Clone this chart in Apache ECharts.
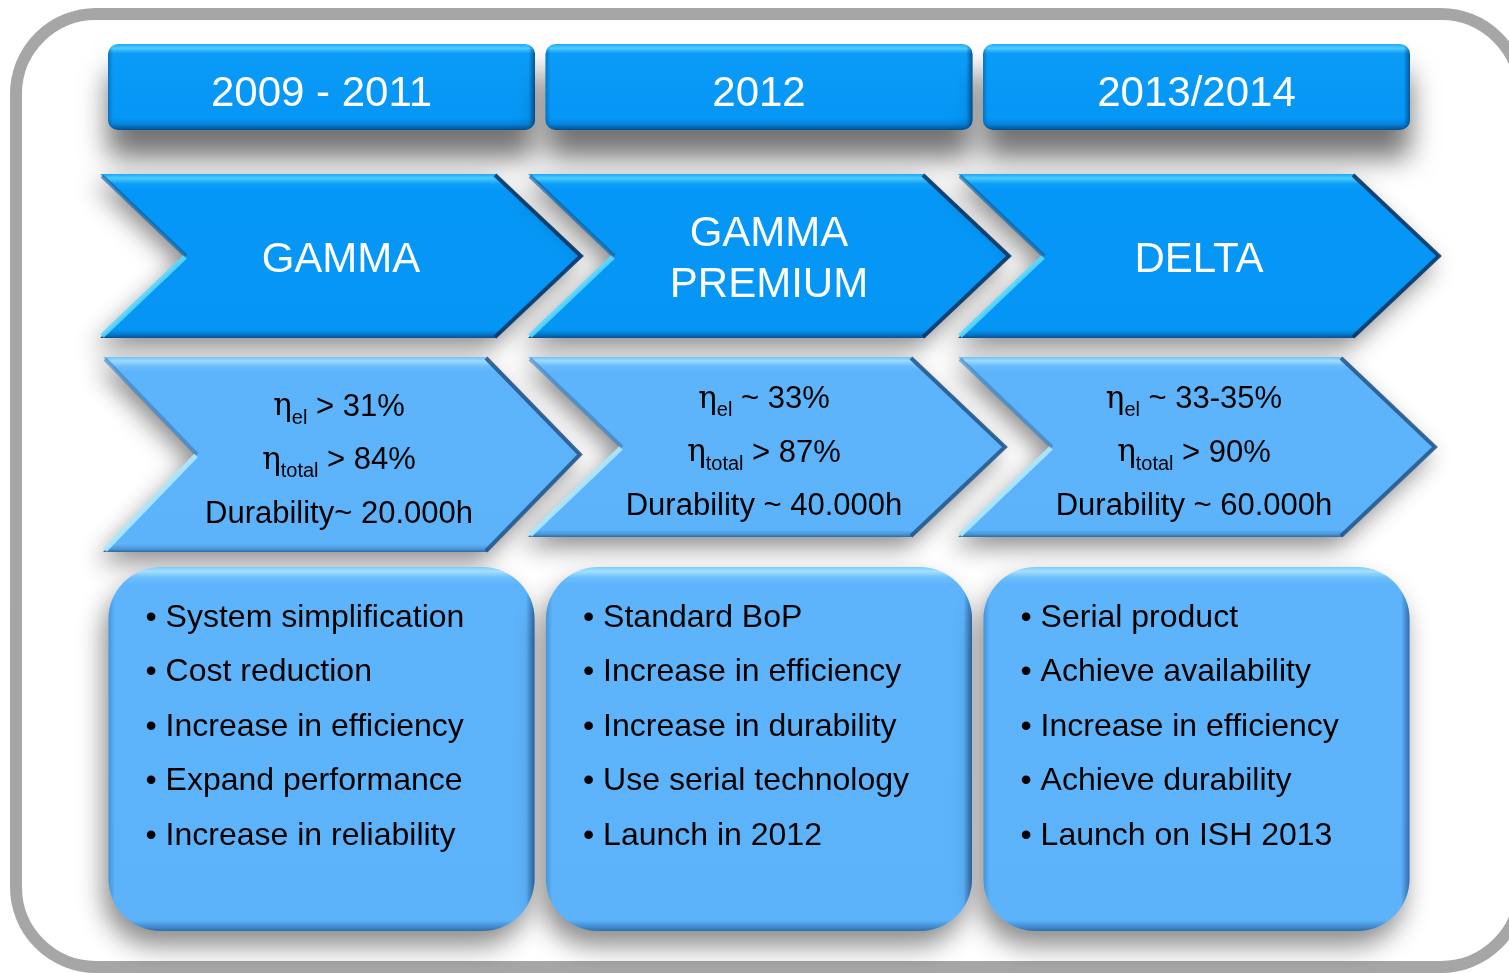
<!DOCTYPE html>
<html>
<head>
<meta charset="utf-8">
<title>GAMMA / DELTA roadmap</title>
<script src="https://cdn.jsdelivr.net/npm/echarts@6/dist/echarts.min.js"></script>
<style>
  html, body { margin: 0; padding: 0; background: #fff; }
  #main { width: 1509px; height: 973px; }
</style>
</head>
<body>
<div id="main"></div>
<script>
// periods shown in the header boxes
const periods = ["2009 - 2011", "2012", "2013/2014"];

// product generation per period
const products = ["GAMMA", "GAMMA\nPREMIUM", "DELTA"];

// efficiency and durability targets
const etaEl = ["> 31%", "~ 33%", "~ 33-35%"];
const etaTotal = ["> 84%", "> 87%", "> 90%"];
const durability = [
  "Durability~ 20.000h",
  "Durability ~ 40.000h",
  "Durability ~ 60.000h",
];

// goals per period
const goalsGamma = [
  "System simplification",
  "Cost reduction",
  "Increase in efficiency",
  "Expand performance",
  "Increase in reliability",
];
const goalsPremium = [
  "Standard BoP",
  "Increase in efficiency",
  "Increase in durability",
  "Use serial technology",
  "Launch in 2012",
];
const goalsDelta = [
  "Serial product",
  "Achieve availability",
  "Increase in efficiency",
  "Achieve durability",
  "Launch on ISH 2013",
];
const goals = [goalsGamma, goalsPremium, goalsDelta];

// layout (relative to the column centre of the category axis)
const layout = {
  header: { half: 213.5, top: 44, bottom: 130, r: 10 },
  arrow1: { top: 174, bottom: [338, 338, 338], offset: [-221.5, -231, -238.5], width: 482, depth: 86 },
  arrow2: { top: 357, bottom: [552, 537, 537], offset: [-218.5, -231, -238.5], width: 478, depth: 94 },
  box: { half: 213, top: 567, bottom: 931, r: 52 },
};

const FONT = "Liberation Sans, Arial, sans-serif";

// vertical / horizontal gradient helper
const grad = (stops, horizontal) =>
  new echarts.graphic.LinearGradient(
    0, 0, horizontal ? 1 : 0, horizontal ? 0 : 1,
    stops.map(([offset, color]) => ({ offset, color }))
  );

const chevronPoints = (l, t, w, b, d) => {
  const m = (t + b) / 2;
  return [[l, t], [l + w - d, t], [l + w, m], [l + w - d, b], [l, b], [l + d, m]];
};

// bevelled chevron: base shape + edge lines
const chevron = (l, t, w, b, d, c) => {
  const m = (t + b) / 2;
  return [
    {
      type: "polygon",
      shape: { points: chevronPoints(l, t, w, b, d) },
      style: {
        fill: grad(c.fill),
        shadowBlur: 24,
        shadowOffsetX: -6,
        shadowOffsetY: 10,
        shadowColor: "rgba(0,0,0,0.45)",
      },
    },
    {
      type: "polyline",
      shape: { points: [[l + 2, t + 2], [l + d, m]] },
      style: { stroke: c.darkLeft, lineWidth: 4, fill: null },
    },
    {
      type: "polyline",
      shape: { points: [[l + d - 1, m + 1], [l + 2, b - 2]] },
      style: { stroke: c.light, lineWidth: 5, fill: null },
    },
    {
      type: "polyline",
      shape: { points: [[l + w - d - 1, t + 1], [l + w - 1, m], [l + w - d - 1, b - 1]] },
      style: { stroke: c.dark, lineWidth: 4, fill: null, lineJoin: "miter" },
    },
  ];
};

const renderColumn = function (params, api) {
  const i = params.dataIndex;
  const cx = api.coord([api.value(0), 0])[0];
  const py = (v) => api.coord([api.value(0), v])[1];
  const children = [];

  // header box
  const H = layout.header;
  const hShape = { x: cx - H.half, y: py(H.top), width: H.half * 2, height: py(H.bottom) - py(H.top), r: H.r };
  children.push({
    type: "rect",
    shape: hShape,
    style: {
      fill: grad([[0, "#1ea9fb"], [0.05, "#4ccbff"], [0.11, "#0b9cf8"], [0.86, "#0596f6"], [0.93, "#0584de"], [1, "#044f8c"]]),
      shadowBlur: 28,
      shadowOffsetY: 28,
      shadowColor: "rgba(0,0,0,0.55)",
    },
  });
  children.push({
    type: "rect",
    shape: hShape,
    style: {
      fill: grad([[0, "rgba(0,50,100,0.35)"], [0.012, "rgba(0,50,100,0)"], [0.985, "rgba(0,50,100,0)"], [1, "rgba(0,40,90,0.6)"]], true),
    },
  });
  children.push({
    type: "text",
    x: cx,
    y: (py(H.top) + py(H.bottom)) / 2 + 7,
    style: { text: periods[i], fill: "#fff", fontSize: 42, fontFamily: FONT, align: "center", verticalAlign: "middle" },
  });

  // product chevron
  const A = layout.arrow1;
  const l1 = cx + A.offset[i];
  const b1 = py(A.bottom[i]);
  children.push(
    ...chevron(l1, py(A.top), A.width, b1, A.depth, {
      fill: [[0, "#1aa6fa"], [0.025, "#4ccdff"], [0.06, "#0d9ef8"], [0.1, "#0597f7"], [0.95, "#0595f5"], [0.98, "#0575c8"], [1, "#0a4f8a"]],
      dark: "rgba(6,52,96,0.85)",
      darkLeft: "rgba(4,90,160,0.6)",
      light: "rgba(90,215,255,0.9)",
    })
  );
  children.push({
    type: "text",
    x: l1 + A.width / 2,
    y: (py(A.top) + b1) / 2 + 4,
    style: { text: products[i], fill: "#fff", fontSize: 42, lineHeight: 51, fontFamily: FONT, align: "center", verticalAlign: "middle" },
  });

  // efficiency chevron
  const B = layout.arrow2;
  const l2 = cx + B.offset[i];
  const b2 = py(B.bottom[i]);
  children.push(
    ...chevron(l2, py(B.top), B.width, b2, B.depth, {
      fill: [[0, "#6fc0fc"], [0.02, "#9cdcff"], [0.05, "#6abbfc"], [0.08, "#5db4fb"], [0.96, "#5cb3fa"], [0.985, "#4a95d8"], [1, "#2e6aa5"]],
      dark: "rgba(35,85,135,0.85)",
      darkLeft: "rgba(50,120,190,0.55)",
      light: "rgba(170,230,255,0.95)",
    })
  );
  const rich = {
    eta: { fontFamily: "DejaVu Serif, serif", fontSize: 31, lineHeight: 53.5, fill: "#000" },
    sub: { fontFamily: FONT, fontSize: 20, lineHeight: 20, padding: [22, 0, 0, 0], fill: "#000" },
    v: { fontFamily: FONT, fontSize: 31, lineHeight: 53.5, fill: "#000" },
  };
  children.push({
    type: "text",
    x: l2 + B.width / 2 - 3,
    y: (py(B.top) + b2) / 2 + 6,
    style: {
      text:
        "{eta|η}{sub|el}{v| " + etaEl[i] + "}\n" +
        "{eta|η}{sub|total}{v| " + etaTotal[i] + "}\n" +
        "{v|" + durability[i] + "}",
      rich,
      align: "center",
      verticalAlign: "middle",
    },
  });

  // goals box
  const G = layout.box;
  const gShape = { x: cx - G.half, y: py(G.top), width: G.half * 2, height: py(G.bottom) - py(G.top), r: G.r };
  children.push({
    type: "rect",
    shape: gShape,
    style: {
      fill: grad([[0, "#7cc8fd"], [0.012, "#a4e0ff"], [0.03, "#6bbcfc"], [0.05, "#5db4fb"], [0.97, "#5cb3fa"], [0.99, "#3f88cc"], [1, "#2f6ea9"]]),
      shadowBlur: 26,
      shadowOffsetX: -5,
      shadowOffsetY: 15,
      shadowColor: "rgba(0,0,0,0.45)",
    },
  });
  children.push({
    type: "rect",
    shape: gShape,
    style: {
      fill: grad([[0, "rgba(40,110,180,0.45)"], [0.015, "rgba(40,110,180,0)"], [0.98, "rgba(30,80,140,0)"], [1, "rgba(30,80,140,0.7)"]], true),
    },
  });
  children.push({
    type: "text",
    x: cx - G.half + 37,
    y: py(G.top) + 23.75,
    style: {
      text: goals[i].map((g) => "• " + g).join("\n"),
      fill: "#000",
      fontSize: 32,
      lineHeight: 54.5,
      fontFamily: FONT,
      align: "left",
      verticalAlign: "top",
    },
  });

  return { type: "group", children };
};

var myChart = echarts.init(document.getElementById("main"));

var option = {
  animation: false,
  backgroundColor: "#fff",
  grid: { left: 102.75, right: 93.75, top: 0, bottom: 0 },
  xAxis: { type: "category", data: periods, show: false },
  yAxis: { type: "value", min: 0, max: 973, inverse: true, show: false },
  // outer rounded frame
  graphic: [
    {
      type: "rect",
      z: -1,
      shape: { x: 16, y: 14, width: 1505, height: 953, r: 80 },
      style: { fill: "none", stroke: "#a6a6a6", lineWidth: 12 },
    },
  ],
  series: [
    {
      type: "custom",
      renderItem: renderColumn,
      data: periods.map((p, i) => [i, 0]),
      encode: { x: 0, y: 1 },
      clip: false,
      silent: true,
    },
  ],
};

myChart.setOption(option);
</script>
</body>
</html>
